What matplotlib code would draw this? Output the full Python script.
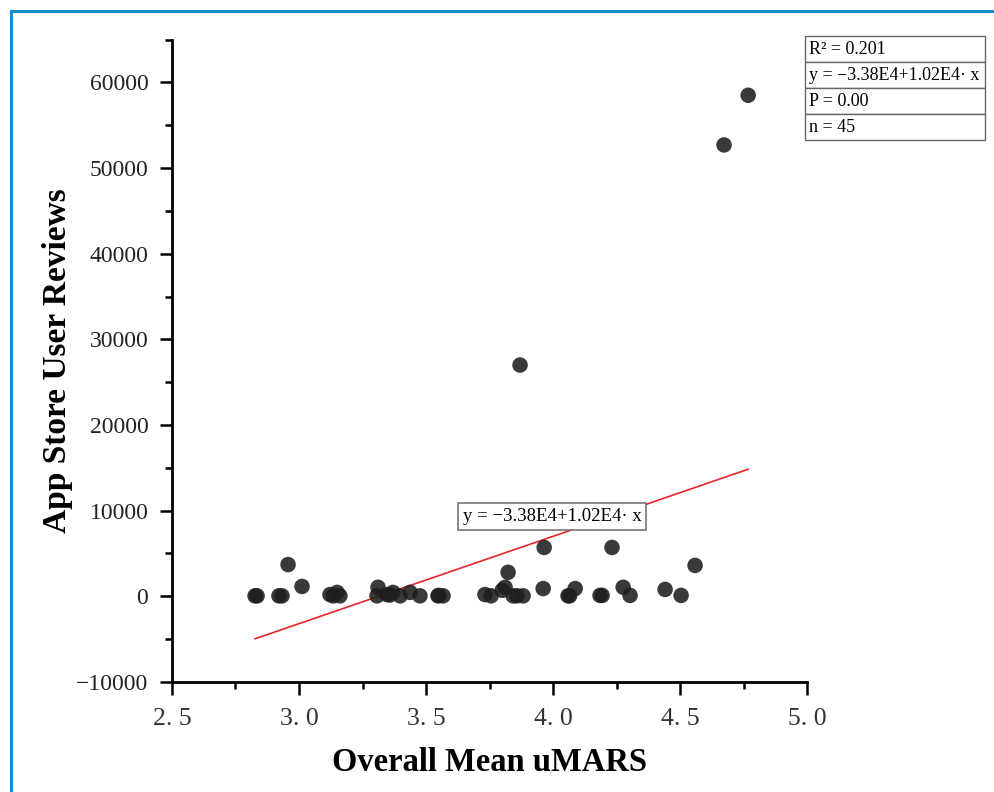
import matplotlib
matplotlib.use("Agg")
import matplotlib.pyplot as plt
import numpy as np
from matplotlib.lines import Line2D
from matplotlib.ticker import MultipleLocator

# uMARS score vs. number of App Store user reviews
umars = [2.827, 2.835, 2.921, 2.933, 2.957, 3.012, 3.122, 3.135, 3.150, 3.161,
         3.307, 3.311, 3.346, 3.358, 3.370, 3.398, 3.437, 3.476, 3.547, 3.550,
         3.567, 3.732, 3.756, 3.800, 3.811, 3.823, 3.843, 3.858, 3.870, 3.882,
         3.961, 3.965, 4.059, 4.065, 4.087, 4.185, 4.193, 4.232, 4.276, 4.303,
         4.441, 4.504, 4.559, 4.673, 4.768]
reviews = [50, 50, 50, 50, 3700, 1150, 200, 50, 450, 50,
           50, 1050, 200, 150, 450, 50, 450, 50, 50, 100,
           50, 200, 50, 700, 1050, 2800, 50, 50, 27000, 50,
           900, 5700, 50, 50, 900, 100, 100, 5700, 1050, 100,
           800, 100, 3600, 52700, 58500]

intercept, slope = -3.38e4, 1.02e4
stats_rows = ["R² = 0.201", "y = −3.38E4+1.02E4· x", "P = 0.00", "n = 45"]
fit_label = "y = −3.38E4+1.02E4· x"

xticks = [2.5, 3.0, 3.5, 4.0, 4.5, 5.0]
xtick_labels = ["2. 5", "3. 0", "3. 5", "4. 0", "4. 5", "5. 0"]
yticks = [-10000, 0, 10000, 20000, 30000, 40000, 50000, 60000]
ytick_labels = ["−10000", "0", "10000", "20000", "30000", "40000", "50000", "60000"]

serif = ["Liberation Serif", "DejaVu Serif"]
plt.rcParams["font.family"] = serif

fig = plt.figure(figsize=(9.94, 7.92), dpi=100)
ax = fig.add_axes([0.173, 0.139, 0.639, 0.811])

ax.scatter(umars, reviews, s=125, color="#1e1e1e", alpha=0.88, edgecolors="none", zorder=3)

xs = np.array([min(umars), max(umars)])
ax.plot(xs, intercept + slope * xs, color="#e8252a", lw=1.2, zorder=2)

ax.text(3.645, 9300, fit_label, fontsize=13.5, va="center", ha="left",
        bbox=dict(boxstyle="square,pad=0.25", facecolor="white", edgecolor="#777777", lw=1.2),
        zorder=4)

ax.set_xlim(2.5, 5.0)
ax.set_ylim(-10000, 65000)
ax.set_xticks(xticks)
ax.set_xticklabels(xtick_labels, fontsize=18.5, color="#333333")
ax.set_yticks(yticks)
ax.set_yticklabels(ytick_labels, fontsize=17, color="#222222")
ax.xaxis.set_minor_locator(MultipleLocator(0.25))
ax.yaxis.set_minor_locator(MultipleLocator(5000))
ax.tick_params(which="major", length=9, width=1.8, direction="out")
ax.tick_params(which="minor", length=5, width=1.8, direction="out")
ax.tick_params(axis="x", pad=10)
ax.tick_params(axis="y", pad=8)

for side in ("top", "right"):
    ax.spines[side].set_visible(False)
for side in ("left", "bottom"):
    ax.spines[side].set_linewidth(2)

ax.set_xlabel("Overall Mean uMARS", fontsize=23.5, fontweight="bold", labelpad=12)
ax.set_ylabel("App Store User Reviews", fontsize=24, fontweight="bold", labelpad=2)

tbl = ax.table(cellText=[[r] for r in stats_rows], cellLoc="left",
               bbox=[0.997, 0.843, 0.283, 0.162])
tbl.auto_set_font_size(False)
tbl.set_fontsize(13)
for cell in tbl.get_celld().values():
    cell.set_edgecolor("#666666")
    cell.set_linewidth(1.0)
    cell.PAD = 0.02
tbl.set_clip_on(False)

# blue frame of the original page
fig.add_artist(Line2D([11 / 994, 11 / 994], [0, 1 - 11 / 792], color="#1b8ccc", lw=2.2))
fig.add_artist(Line2D([11 / 994, 1], [1 - 11 / 792, 1 - 11 / 792], color="#1b8ccc", lw=2.2))

fig.savefig("out.png", dpi=100)
